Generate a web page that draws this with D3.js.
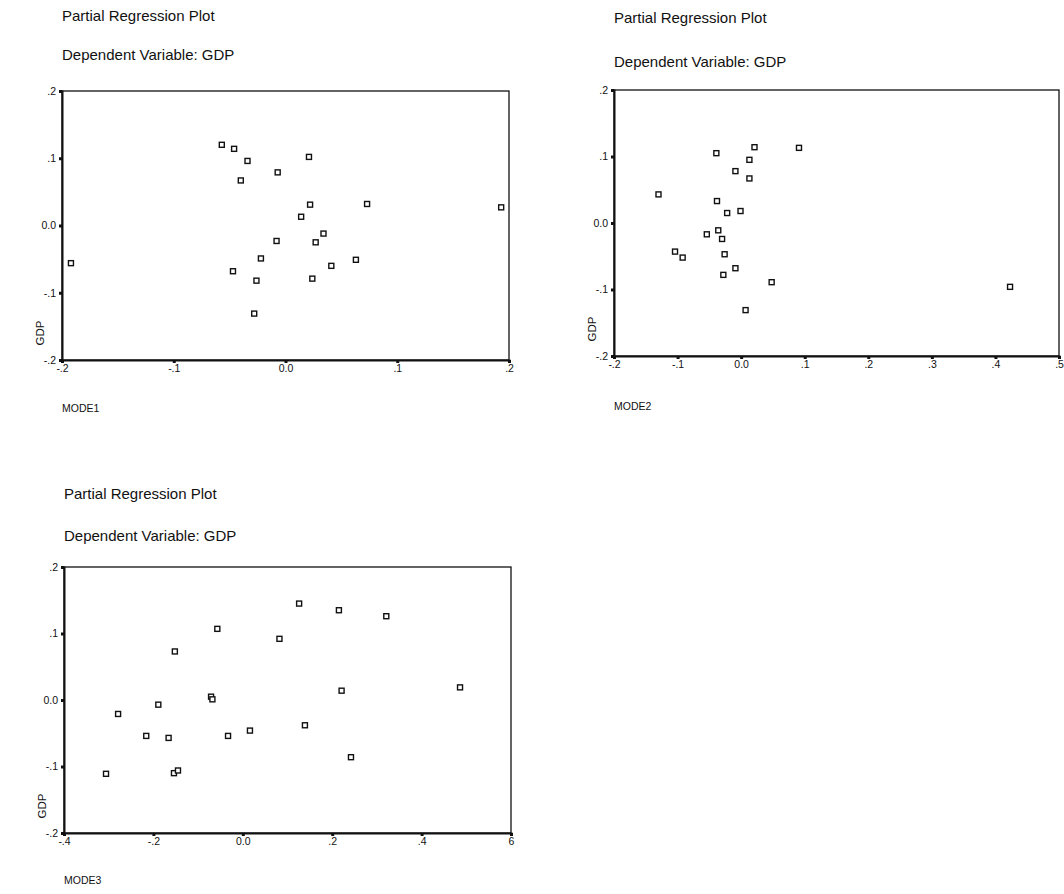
<!DOCTYPE html>
<html>
<head>
<meta charset="utf-8">
<script src="https://cdn.jsdelivr.net/npm/d3@7"></script>
<style>
  body { margin: 0; background: #fff; }
  text { font-family: Arial, "Liberation Sans", sans-serif; fill: #111; }
</style>
</head>
<body>
<svg id="chart" width="1064" height="894"></svg>
<script>
// Titles shared by the three panels
var titleLine1 = "Partial Regression Plot";
var titleLine2 = "Dependent Variable: GDP";
var yLabel = "GDP";

// Y axis (GDP residuals), same for every panel
var yTicks = [-0.2, -0.1, 0, 0.1, 0.2];
var yTickLabels = ["-.2", "-.1", "0.0", ".1", ".2"];

// Panel 1: MODE1
var mode1Ticks = [-0.2, -0.1, 0, 0.1, 0.2];
var mode1TickLabels = ["-.2", "-.1", "0.0", ".1", ".2"];
var mode1X = [-0.057, -0.046, -0.034, -0.007, -0.040, 0.014, -0.008, -0.022, -0.047, -0.026, -0.028,
              -0.192, 0.021, 0.022, 0.073, 0.193, 0.034, 0.027, 0.063, 0.041, 0.024];
var mode1Y = [0.120, 0.114, 0.096, 0.079, 0.067, 0.013, -0.023, -0.049, -0.068, -0.082, -0.131,
              -0.056, 0.102, 0.031, 0.032, 0.027, -0.012, -0.025, -0.051, -0.060, -0.079];

// Panel 2: MODE2
var mode2Ticks = [-0.2, -0.1, 0, 0.1, 0.2, 0.3, 0.4, 0.5];
var mode2TickLabels = ["-.2", "-.1", "0.0", ".1", ".2", ".3", ".4", ".5"];
var mode2X = [0.021, 0.091, -0.039, 0.013, -0.009, 0.013, -0.130, -0.038, -0.022, -0.001, -0.036,
              -0.054, -0.030, -0.104, -0.092, -0.026, -0.009, -0.028, 0.048, 0.007, 0.423];
var mode2Y = [0.114, 0.113, 0.105, 0.095, 0.078, 0.067, 0.043, 0.033, 0.015, 0.018, -0.011,
              -0.017, -0.024, -0.043, -0.052, -0.047, -0.068, -0.078, -0.089, -0.131, -0.096];

// Panel 3: MODE3
var mode3Ticks = [-0.4, -0.2, 0, 0.2, 0.4, 0.6];
var mode3TickLabels = ["-.4", "-.2", "0.0", ".2", ".4", "6"];
var mode3X = [-0.057, 0.082, -0.152, -0.071, -0.068, -0.189, -0.279, -0.216, -0.166, -0.033, 0.016,
              -0.306, -0.154, -0.145, 0.126, 0.215, 0.321, 0.221, 0.486, 0.139, 0.242];
var mode3Y = [0.107, 0.092, 0.073, 0.005, 0.001, -0.007, -0.021, -0.054, -0.057, -0.054, -0.046,
              -0.111, -0.110, -0.106, 0.145, 0.135, 0.126, 0.014, 0.019, -0.038, -0.086];

var svg = d3.select("#chart");

// Layout of each panel in pixels
var panels = [
    { name: "MODE1", xs: mode1X, ys: mode1Y, ticks: mode1Ticks, labels: mode1TickLabels,
      left: 62, right: 509, top: 91, bottom: 360, titleY: 21, title2Y: 60, labelY: 412 },
    { name: "MODE2", xs: mode2X, ys: mode2Y, ticks: mode2Ticks, labels: mode2TickLabels,
      left: 614, right: 1059, top: 90, bottom: 356, titleY: 23, title2Y: 67, labelY: 410 },
    { name: "MODE3", xs: mode3X, ys: mode3Y, ticks: mode3Ticks, labels: mode3TickLabels,
      left: 64, right: 511, top: 567, bottom: 833, titleY: 499, title2Y: 541, labelY: 884 }
];

panels.forEach(function (p) {
    var x = d3.scaleLinear()
        .domain([p.ticks[0], p.ticks[p.ticks.length - 1]])
        .range([p.left, p.right]);
    var y = d3.scaleLinear()
        .domain([-0.2, 0.2])
        .range([p.bottom, p.top]);

    var g = svg.append("g");

    // Titles
    g.append("text")
        .attr("x", p.left)
        .attr("y", p.titleY)
        .style("font-size", "15px")
        .text(titleLine1);
    g.append("text")
        .attr("x", p.left)
        .attr("y", p.title2Y)
        .style("font-size", "15px")
        .text(titleLine2);

    // Frame, top and right thinner than the axes
    g.append("rect")
        .attr("x", p.left)
        .attr("y", p.top)
        .attr("width", p.right - p.left)
        .attr("height", p.bottom - p.top)
        .style("fill", "none")
        .style("stroke", "#111")
        .style("stroke-width", 1.3);

    // Axes
    var yAxis = d3.axisLeft(y)
        .tickValues(yTicks)
        .tickFormat(function (d, i) { return yTickLabels[i]; })
        .tickSize(3)
        .tickPadding(3);
    var xAxis = d3.axisBottom(x)
        .tickValues(p.ticks)
        .tickFormat(function (d, i) { return p.labels[i]; })
        .tickSize(3)
        .tickPadding(2);

    var ya = g.append("g")
        .attr("transform", "translate(" + p.left + ",0)")
        .call(yAxis);
    var xa = g.append("g")
        .attr("transform", "translate(0," + p.bottom + ")")
        .call(xAxis);

    [ya, xa].forEach(function (a) {
        a.select(".domain").attr("stroke", "#111").attr("stroke-width", 2);
        a.selectAll(".tick line").attr("stroke", "#111").attr("stroke-width", 3);
        a.selectAll(".tick text")
            .style("font-size", "10.5px")
            .style("font-family", "Arial, 'Liberation Sans', sans-serif")
            .attr("fill", "#111");
    });

    // Axis titles
    g.append("text")
        .attr("transform", "translate(" + (p.left - 18) + "," + (p.bottom - 27) + ") rotate(-90)")
        .attr("text-anchor", "middle")
        .style("font-size", "11.5px")
        .text(yLabel);
    g.append("text")
        .attr("x", p.left)
        .attr("y", p.labelY)
        .style("font-size", "10.5px")
        .text(p.name);

    // Points, small hollow squares
    var pts = p.xs.map(function (v, i) { return [v, p.ys[i]]; });
    g.selectAll(".pt")
        .data(pts)
        .enter()
        .append("rect")
        .attr("class", "pt")
        .attr("x", function (d) { return x(d[0]) - 2.5; })
        .attr("y", function (d) { return y(d[1]) - 2.5; })
        .attr("width", 5)
        .attr("height", 5)
        .style("fill", "#fff")
        .style("stroke", "#111")
        .style("stroke-width", 1.4);
});
</script>
</body>
</html>
